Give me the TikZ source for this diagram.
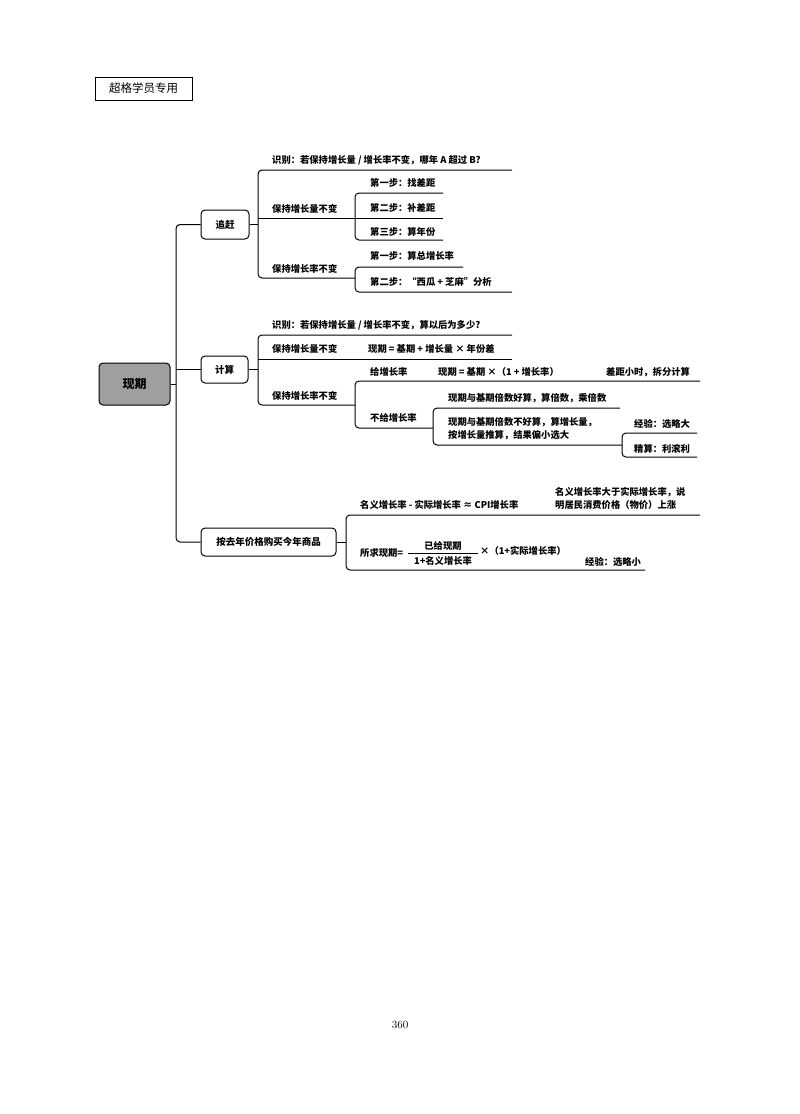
\documentclass[tikz,border=0pt]{standalone}
\usepackage{fontspec}
\setmainfont{Noto Sans CJK SC}
\newfontfamily\lmfont{Latin Modern Roman}
\begin{document}
\begin{tikzpicture}[x=1pt,y=-1pt,
  box/.style={draw,line width=1pt,rounded corners=4pt,align=center,font=\fontsize{9.5}{11}\selectfont\bfseries},
  txt/.style={anchor=west,inner sep=0pt,font=\fontsize{9.3}{13}\selectfont\bfseries},
  ln/.style={line width=1pt,rounded corners=4pt}]
\useasboundingbox (0,0) rectangle (800,1114);
\node[draw,line width=0.6pt,inner sep=2pt,font=\fontsize{11.5}{12}\selectfont,minimum width=97,minimum height=23] (hdr) at (143.5,88.5) {超格学员专用};
\node[box,fill=gray!75,minimum width=71,minimum height=42,font=\fontsize{12}{13}\selectfont\bfseries] (root) at (134.5,384) {现期};
\node[box,minimum width=48,minimum height=29] (zg) at (225,224.5) {追赶};
\node[box,minimum width=47,minimum height=27] (js) at (224.5,369.5) {计算};
\node[box,minimum width=135,minimum height=28] (aq) at (268.5,542) {按去年价格购买今年商品};
% trunk
\draw[ln] (root.east) -- (176,384);
\draw[ln] (zg.west) -- (176,224.5) -- (176,542) -- (aq.west);
\draw[ln] (js.west) -- (176,369.5);
% zhuigan
\draw[ln] (zg.east) -- (258,224.5);
\draw[ln] (512,170) -- (258,170) -- (258,278) -- (355,278);
\draw[ln] (258,218) -- (355,218);
\node[txt] (t1) at (272,160) {识别：若保持增长量 / 增长率不变，哪年 A 超过 B?};
\node[txt] (t2) at (272,209) {保持增长量不变};
\node[txt] (t3) at (272,269) {保持增长率不变};
\draw[ln] (443,193) -- (355,193) -- (355,240) -- (443,240);
\draw[ln] (355,218) -- (443,218);
\node[txt] (t4) at (370,183) {第一步：找差距};
\node[txt] (t5) at (370,208) {第二步：补差距};
\node[txt] (t6) at (370,232) {第三步：算年份};
\draw[ln] (463,267) -- (355,267) -- (355,292) -- (512,292);
\node[txt] (t7) at (370,256) {第一步：算总增长率};
\node[txt] (t8) at (370,282) {第二步：“西瓜 + 芝麻”分析};
% jisuan
\draw[ln] (js.east) -- (258,369.5);
\draw[ln] (512,335) -- (258,335) -- (258,405) -- (355,405);
\draw[ln] (258,359) -- (512,359);
\node[txt] (u1) at (272,325) {识别：若保持增长量 / 增长率不变，算以后为多少?};
\node[txt] (u2) at (272,349) {保持增长量不变};
\node[txt] (u3) at (368,349) {现期 = 基期 + 增长量 × 年份差};
\node[txt] (u4) at (272,396) {保持增长率不变};
\draw[ln] (700,381) -- (355,381) -- (355,428) -- (433,428);
\node[txt] (u5) at (370,372) {给增长率};
\node[txt] (u6) at (438,372) {现期 = 基期 ×（1 + 增长率）};
\node[txt] (u7) at (606,372) {差距小时，拆分计算};
\node[txt] (u8) at (370,418) {不给增长率};
\draw[ln] (620,408) -- (433,408) -- (433,445) -- (622,445);
\node[txt] (u9) at (448,398) {现期与基期倍数好算，算倍数，乘倍数};
\node[txt,align=left] (u10) at (448,429) {现期与基期倍数不好算，算增长量，\\按增长量推算，结果偏小选大};
\draw[ln] (697,433) -- (622,433) -- (622,457) -- (697,457);
\node[txt] (u11) at (634,424) {经验：选略大};
\node[txt] (u12) at (634,449) {精算：利滚利};
% third
\draw[ln] (aq.east) -- (346,542);
\draw[ln] (700,515) -- (346,515) -- (346,570) -- (645,570);
\node[txt] (v1) at (360,505) {名义增长率 - 实际增长率 ≈ CPI增长率};
\node[txt,align=left] (v2) at (555,498) {名义增长率大于实际增长率，说\\明居民消费价格（物价）上涨};
\node[txt] (v3) at (360,553) {所求现期=};
\node[txt,anchor=center] (fn) at (443,546) {已给现期};
\node[txt,anchor=center] (fd) at (443,561) {1+名义增长率};
\draw[line width=0.6pt] (408,553.5) -- (478,553.5);
\node[txt] (v5) at (480,551) {×（1+实际增长率）};
\node[txt] (v4) at (585,562) {经验：选略小};
\node[font=\lmfont\fontsize{11}{12}\selectfont] (pg) at (400,1025) {360};
\end{tikzpicture}
\end{document}
